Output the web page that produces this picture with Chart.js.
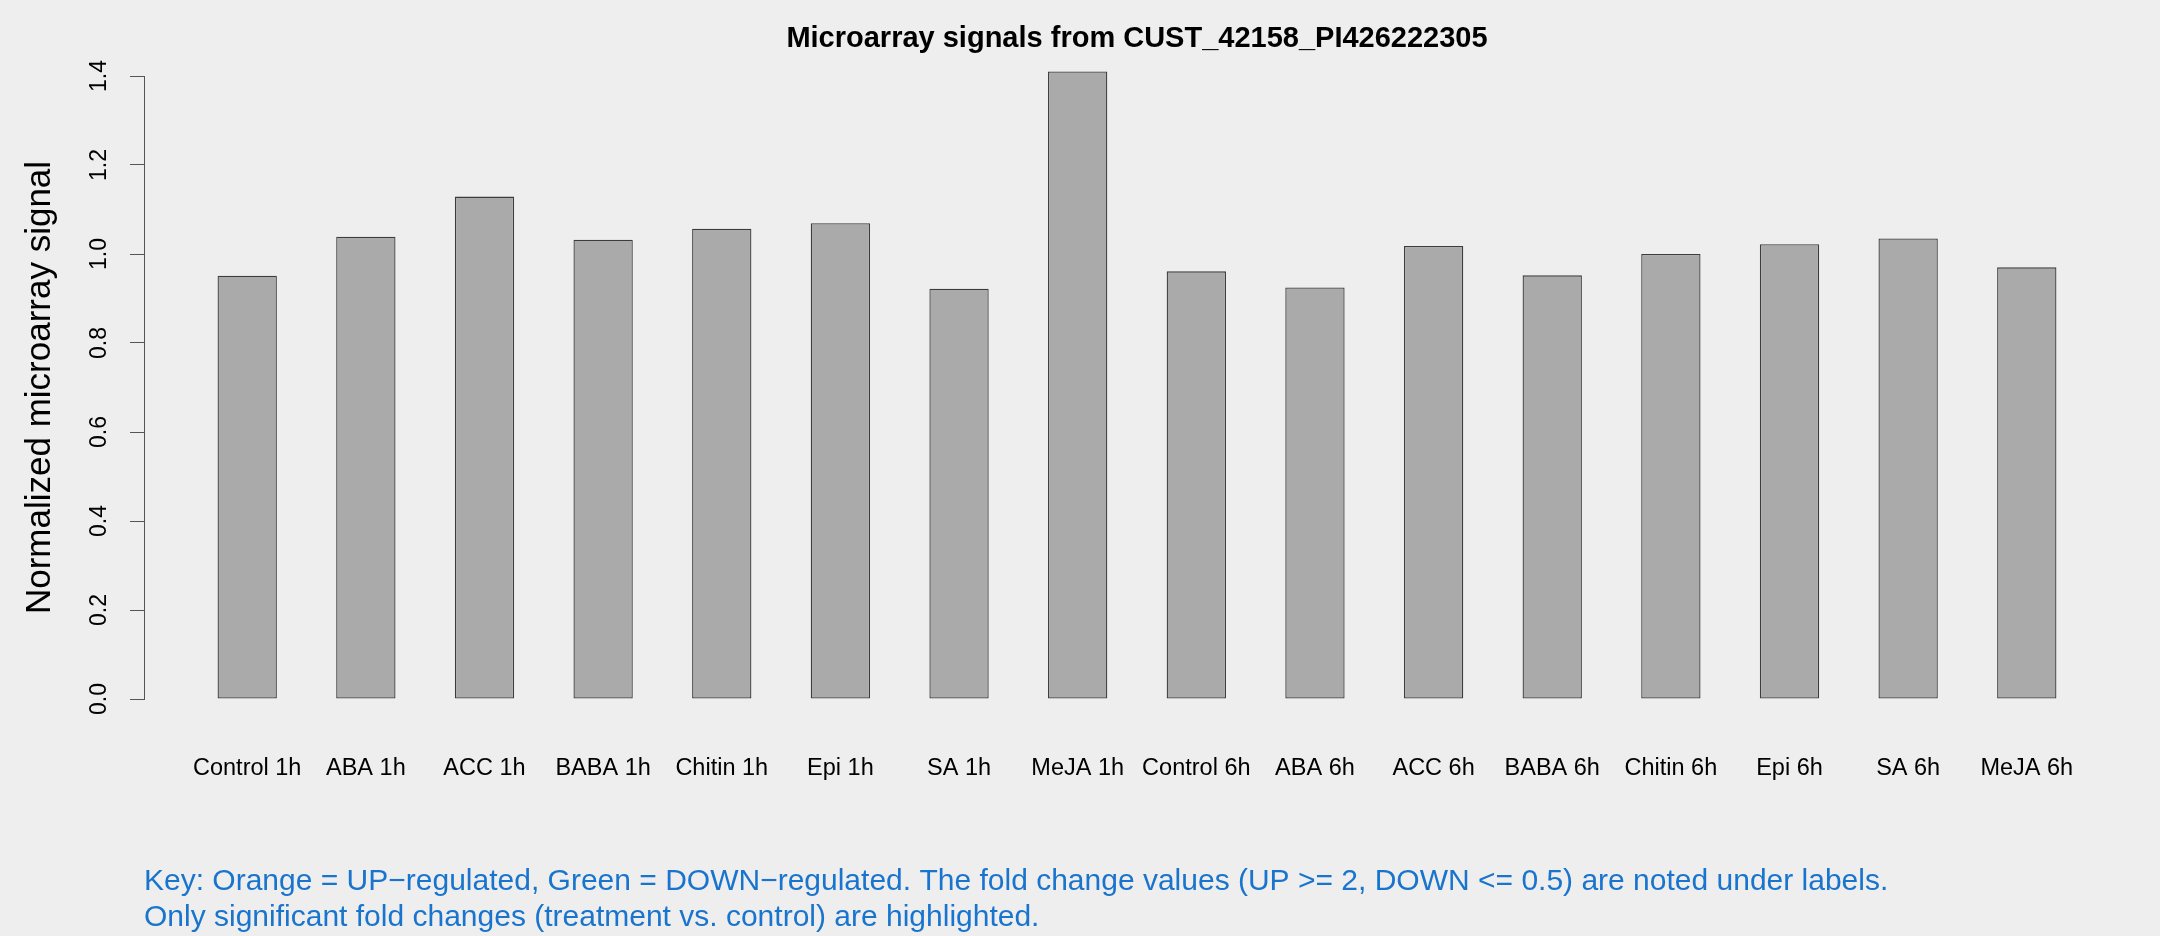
<!DOCTYPE html>
<html>
<head>
<meta charset="utf-8">
<title>Microarray signals</title>
<script src="https://cdn.jsdelivr.net/npm/chart.js@4/dist/chart.umd.min.js"></script>
<style>
  html, body { margin: 0; padding: 0; background: #eeeeee; }
  canvas { display: block; }
</style>
</head>
<body>
<canvas id="chart" width="2160" height="936"></canvas>
<script>
'use strict';
//chart data
var categories = ['Control 1h', 'ABA 1h', 'ACC 1h', 'BABA 1h', 'Chitin 1h', 'Epi 1h', 'SA 1h', 'MeJA 1h',
  'Control 6h', 'ABA 6h', 'ACC 6h', 'BABA 6h', 'Chitin 6h', 'Epi 6h', 'SA 6h', 'MeJA 6h'];
var signalValues = [0.951, 1.039, 1.129, 1.032, 1.057, 1.069, 0.922, 1.410,
  0.961, 0.925, 1.018, 0.952, 1.000, 1.022, 1.035, 0.970];
var yTicks = [0, 0.2, 0.4, 0.6, 0.8, 1.0, 1.2, 1.4];
var chartTitle = 'Microarray signals from CUST_42158_PI426222305';
var yTitle = 'Normalized microarray signal';
var keyLines = [
  'Key: Orange = UP\u2212regulated, Green = DOWN\u2212regulated. The fold change values (UP >= 2, DOWN <= 0.5) are noted under labels.',
  'Only significant fold changes (treatment vs. control) are highlighted.'
];

var FONT = '"Liberation Sans", Arial, Helvetica, sans-serif';
var AXIS_GREY = '#555555';

//title centred over the plot region, like R's main=
var titlePlugin = {
  id: 'plotTitle',
  afterDraw: function(chart){
    var ctx = chart.ctx;
    var area = chart.chartArea;
    ctx.save();
    ctx.font = 'bold 29px ' + FONT;
    ctx.fillStyle = '#000000';
    ctx.textAlign = 'center';
    ctx.textBaseline = 'middle';
    ctx.fillText(chartTitle, (area.left + area.right) / 2, 39);
    ctx.restore();
  }
};

var points = [];
for (var i = 0; i < signalValues.length; i++) {
  points.push({x: i, y: signalValues[i]});
}

var ctx = document.getElementById('chart').getContext('2d');

new Chart(ctx, {
  type: 'bar',
  data: {
    datasets: [{
      data: points,
      backgroundColor: '#aaaaaa',
      borderColor: '#3c3c3c',
      borderWidth: 1.3,
      borderSkipped: false,
      barPercentage: 0.5,
      categoryPercentage: 1,
      clip: false
    }]
  },
  options: {
    responsive: false,
    animation: false,
    layout: {
      padding: {top: 76, left: 0, right: 30, bottom: 0}
    },
    plugins: {
      legend: {display: false},
      tooltip: {enabled: false}
    },
    scales: {
      x: {
        type: 'linear',
        offset: false,
        min: -0.87,
        max: 15.87,
        afterBuildTicks: function(scale){
          scale.ticks = categories.map(function(c, i){ return {value: i}; });
        },
        afterFit: function(scale){
          scale.height = 237;
        },
        grid: {display: false, drawTicks: false},
        border: {display: false},
        ticks: {
          autoSkip: false,
          maxRotation: 0,
          minRotation: 0,
          padding: 55,
          color: '#000000',
          font: {family: FONT, size: 23.5},
          callback: function(value){ return categories[value]; }
        },
        title: {
          display: true,
          text: keyLines,
          align: 'start',
          color: '#1874cd',
          font: {family: FONT, size: 30, lineHeight: 1.2},
          padding: {top: 0, bottom: 0}
        }
      },
      y: {
        min: 0,
        max: 1.4,
        afterBuildTicks: function(scale){
          scale.ticks = yTicks.map(function(v){ return {value: v}; });
        },
        afterFit: function(scale){
          scale.width = 144;
        },
        grid: {
          display: true,
          drawOnChartArea: false,
          drawTicks: true,
          tickLength: 14,
          color: AXIS_GREY
        },
        border: {display: true, color: AXIS_GREY, width: 1},
        ticks: {
          minRotation: 90,
          maxRotation: 90,
          crossAlign: 'center',
          padding: 14,
          color: '#000000',
          font: {family: FONT, size: 23},
          callback: function(value){ return value.toFixed(1); }
        },
        title: {
          display: true,
          text: yTitle,
          color: '#000000',
          font: {family: FONT, size: 35},
          padding: {top: 19, bottom: 0}
        }
      }
    }
  },
  plugins: [titlePlugin]
});
</script>
</body>
</html>
